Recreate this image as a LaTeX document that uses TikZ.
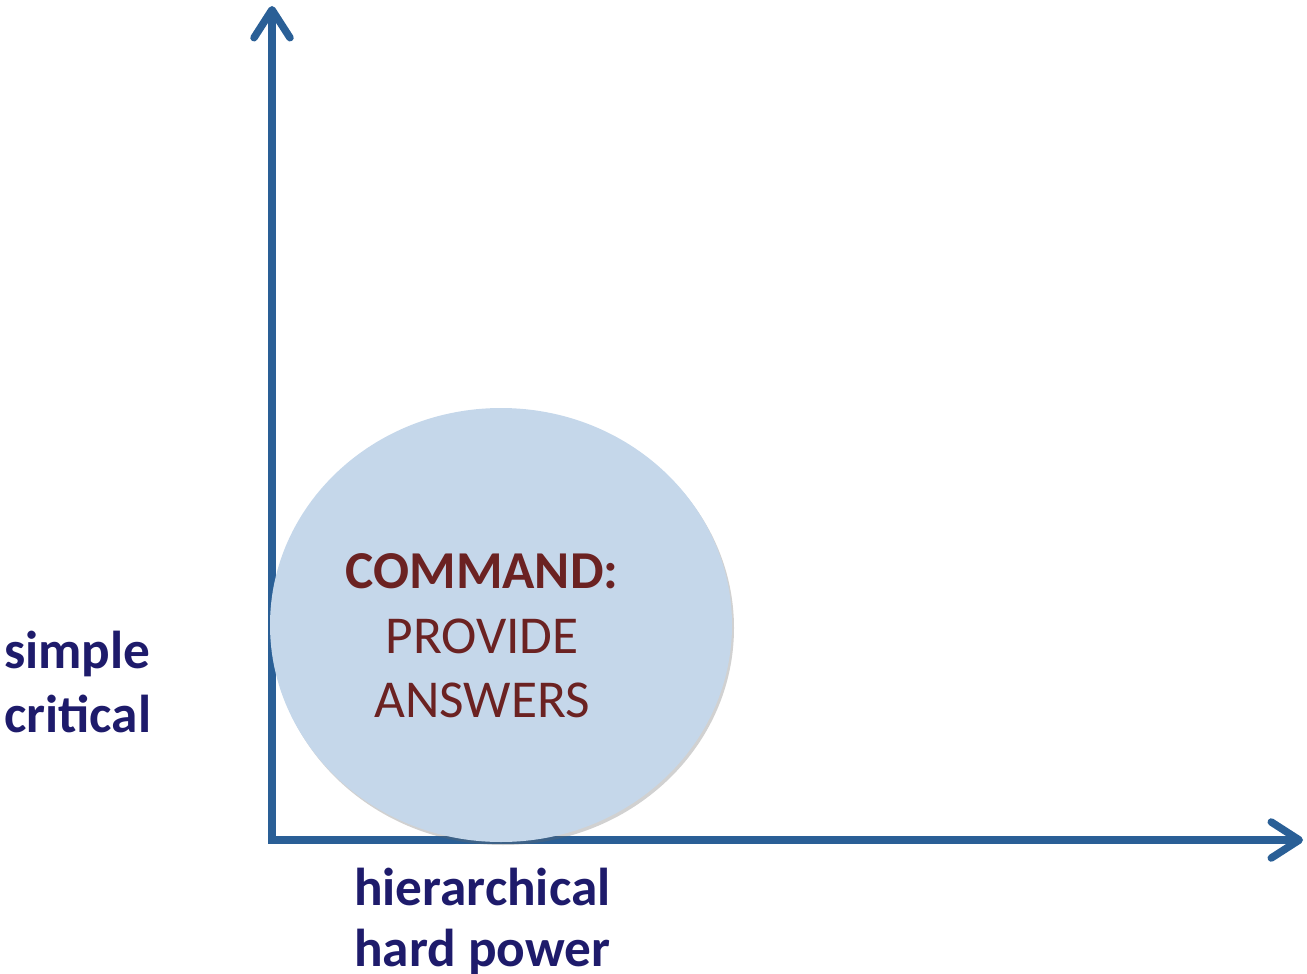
\documentclass[tikz,border=0pt]{standalone}
\usepackage{fontspec}
\setmainfont{Carlito}
\usetikzlibrary{arrows.meta,shadows,shapes.geometric}
\definecolor{axisblue}{HTML}{2A5F96}
\definecolor{ellfill}{HTML}{C5D7EA}
\definecolor{cmdred}{HTML}{6B2222}
\definecolor{navy}{HTML}{1E1B6B}
\tikzset{
  axis/.style={draw=axisblue,line width=7.5pt,line join=miter,
    {Straight Barb[length=28pt,width=36pt,line cap=round,line join=round]}-{Straight Barb[length=28pt,width=36pt,line cap=round,line join=round]}},
  bigtext/.style={font=\fontsize{53.3}{64}\selectfont,inner sep=0pt,align=left},
  axlabel/.style={bigtext,text=navy,font=\fontsize{53.3}{63}\selectfont\bfseries},
}
\begin{document}
\begin{tikzpicture}[x=1pt,y=-1pt]
\useasboundingbox (0,0) rectangle (1307,974);
\coordinate (ytip) at (272,6);
\coordinate (O) at (272,840);
\coordinate (xtip) at (1303,840);
\draw[axis] (ytip) -- (O) -- (xtip);
\node[ellipse,minimum width=462pt,minimum height=434pt,fill=ellfill,inner sep=0pt,
  drop shadow={shadow xshift=2pt,shadow yshift=-3pt,opacity=0.3,fill=black!60}] (ell) at (501,625) {};
\node[bigtext,text=cmdred,anchor=base,align=center] (cmd) at (482,588) {\bfseries COMMAND:};
\node[bigtext,text=cmdred,anchor=base] (prov) at (482,653) {PROVIDE};
\node[bigtext,text=cmdred,anchor=base] (ans) at (482,717) {ANSWERS};
\node[axlabel,anchor=base west] (simple) at (4,668) {simple};
\node[axlabel,anchor=base west] (critical) at (4,732) {critical};
\node[axlabel,anchor=base west] (hier) at (354,905) {hierarchical};
\node[axlabel,anchor=base west] (hard) at (354,966) {hard power};
\end{tikzpicture}
\end{document}
